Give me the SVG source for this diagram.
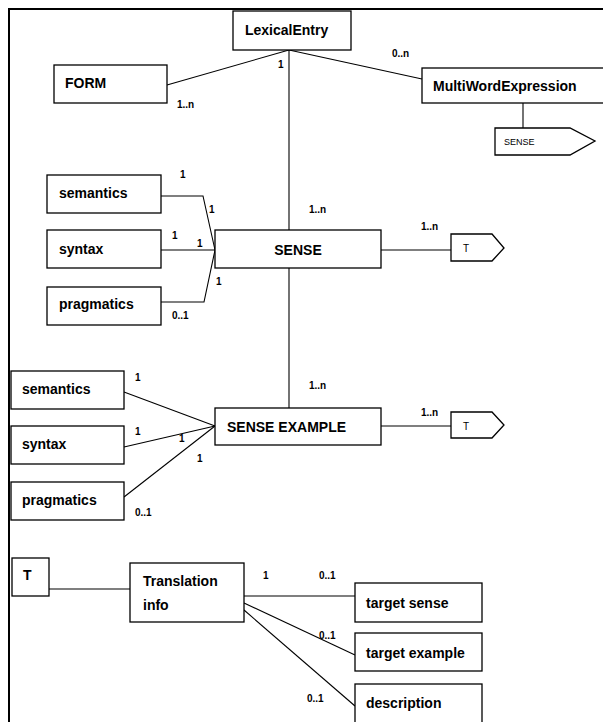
<svg xmlns="http://www.w3.org/2000/svg" width="603" height="722" viewBox="0 0 603 722">
<style>
.box{fill:#fff;stroke:#000;stroke-width:1.3}
.ln{fill:none;stroke:#000;stroke-width:1.1}
.t{font-family:"Liberation Sans",Arial,sans-serif;font-weight:bold;font-size:14px;fill:#000}
.m{font-family:"Liberation Sans",Arial,sans-serif;font-weight:bold;font-size:10px;fill:#000}
.s{font-family:"Liberation Sans",Arial,sans-serif;font-size:9px;fill:#000}
.st{font-family:"Liberation Sans",Arial,sans-serif;font-size:10px;fill:#000}
</style>
<rect x="0" y="0" width="603" height="722" fill="#fff"/>
<rect x="9" y="9" width="610" height="730" fill="none" stroke="#000" stroke-width="2"/>
<g id="connectors">
<line class="ln" x1="167" y1="85" x2="289" y2="50"/>
<line class="ln" x1="289" y1="50" x2="422" y2="79"/>
<line class="ln" x1="289" y1="50" x2="289" y2="230"/>
<line class="ln" x1="523" y1="103" x2="523" y2="128"/>
<polyline class="ln" points="161,196 203,196 215,250"/>
<line class="ln" x1="161" y1="250" x2="215" y2="250"/>
<polyline class="ln" points="161,302 204,302 215,250"/>
<line class="ln" x1="381" y1="250" x2="451" y2="250"/>
<line class="ln" x1="289" y1="268" x2="289" y2="408"/>
<line class="ln" x1="124" y1="392" x2="215" y2="426"/>
<line class="ln" x1="124" y1="447" x2="215" y2="426"/>
<line class="ln" x1="124" y1="497" x2="215" y2="426"/>
<line class="ln" x1="381" y1="426" x2="451" y2="426"/>
<line class="ln" x1="49" y1="589" x2="130" y2="589"/>
<line class="ln" x1="244" y1="596" x2="355" y2="596"/>
<line class="ln" x1="244" y1="603" x2="355" y2="655"/>
<line class="ln" x1="244" y1="610" x2="355" y2="706"/>
</g>
<g id="labels">
<text class="m" x="278" y="68">1</text>
<text class="m" x="177" y="108">1..n</text>
<text class="m" x="392" y="57">0..n</text>
<text class="m" x="309" y="213">1..n</text>
<text class="m" x="421" y="230">1..n</text>
<text class="m" x="180" y="178">1</text>
<text class="m" x="209" y="213">1</text>
<text class="m" x="172" y="239">1</text>
<text class="m" x="197" y="247">1</text>
<text class="m" x="216" y="285">1</text>
<text class="m" x="172" y="319">0..1</text>
<text class="m" x="309" y="389">1..n</text>
<text class="m" x="421" y="416">1..n</text>
<text class="m" x="135" y="381">1</text>
<text class="m" x="135" y="435">1</text>
<text class="m" x="179" y="442">1</text>
<text class="m" x="197" y="462">1</text>
<text class="m" x="135" y="516">0..1</text>
<text class="m" x="263" y="579">1</text>
<text class="m" x="319" y="579">0..1</text>
<text class="m" x="319" y="639">0..1</text>
<text class="m" x="307" y="702">0..1</text>
</g>
<g id="lexicalentry"><rect class="box" x="233" y="11" width="118" height="39"/><text class="t" x="245" y="35">LexicalEntry</text></g>
<g id="form"><rect class="box" x="54" y="65" width="113" height="38"/><text class="t" x="65" y="88">FORM</text></g>
<g id="mwe"><rect class="box" x="422" y="68" width="190" height="35"/><text class="t" x="433" y="91">MultiWordExpression</text></g>
<g id="mwe-sense"><polygon class="box" points="495,128 570,128 595,141 570,155 495,155"/><text class="s" x="504" y="145">SENSE</text></g>
<g id="sense"><rect class="box" x="215" y="230" width="166" height="38"/><text class="t" x="298" y="255" text-anchor="middle">SENSE</text></g>
<g id="sense-t"><polygon class="box" points="451,234 492,234 504,248 492,261 451,261"/><text class="st" x="463" y="252">T</text></g>
<g id="semantics1"><rect class="box" x="47" y="175" width="114" height="38"/><text class="t" x="59" y="198">semantics</text></g>
<g id="syntax1"><rect class="box" x="47" y="230" width="114" height="38"/><text class="t" x="59" y="254">syntax</text></g>
<g id="pragmatics1"><rect class="box" x="47" y="287" width="114" height="38"/><text class="t" x="59" y="309">pragmatics</text></g>
<g id="senseexample"><rect class="box" x="215" y="408" width="166" height="37"/><text class="t" x="227" y="432">SENSE EXAMPLE</text></g>
<g id="example-t"><polygon class="box" points="451,412 492,412 504,425 492,438 451,438"/><text class="st" x="463" y="430">T</text></g>
<g id="semantics2"><rect class="box" x="11" y="371" width="113" height="38"/><text class="t" x="22" y="394">semantics</text></g>
<g id="syntax2"><rect class="box" x="11" y="426" width="113" height="38"/><text class="t" x="22" y="449">syntax</text></g>
<g id="pragmatics2"><rect class="box" x="11" y="482" width="113" height="38"/><text class="t" x="22" y="505">pragmatics</text></g>
<g id="t"><rect class="box" x="12" y="558" width="37" height="38"/><text class="t" x="23" y="580">T</text></g>
<g id="translationinfo"><rect class="box" x="130" y="563" width="114" height="59"/><text class="t" x="143" y="586">Translation</text><text class="t" x="143" y="610">info</text></g>
<g id="targetsense"><rect class="box" x="355" y="583" width="127" height="39"/><text class="t" x="366" y="608">target sense</text></g>
<g id="targetexample"><rect class="box" x="355" y="633" width="127" height="38"/><text class="t" x="366" y="658">target example</text></g>
<g id="description"><rect class="box" x="355" y="684" width="127" height="50"/><text class="t" x="366" y="708">description</text></g>
</svg>
